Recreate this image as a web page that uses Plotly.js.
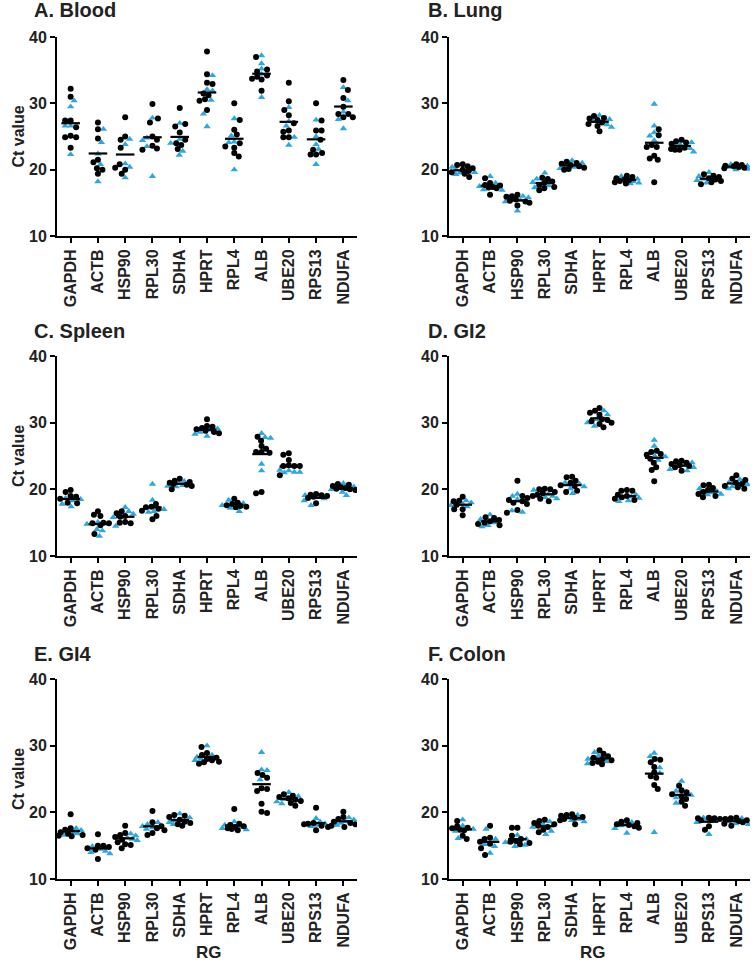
<!DOCTYPE html>
<html>
<head>
<meta charset="utf-8">
<script src="https://cdn.plot.ly/plotly-3.0.1.min.js"></script>
<style>html,body{margin:0;padding:0;background:#fff;}#chart{width:755px;height:963px;}</style>
</head>
<body>
<div id="chart"></div>
<script>
// ---------- DATA ----------
const genes = ['GAPDH','ACTB','HSP90','RPL30','SDHA','HPRT','RPL4','ALB','UBE20','RPS13','NDUFA'];
const yTicks = [10, 20, 30, 40];
const panelTitles = ['A. Blood','B. Lung','C. Spleen','D. GI2','E. GI4','F. Colon'];
const yTitle = 'Ct value';
const xTitle = 'RG';

const bloodBlack = [
  [32.2,31.0,27.4,27.4,26.4,25.1,24.9,24.9,23.3],
  [27.1,26.1,24.7,21.5,21.1,20.2,20.0,19.4],
  [27.9,25.0,24.5,23.3,20.8,20.3,20.0,19.4],
  [29.9,27.7,27.1,25.0,24.5,23.6,23.2,23.0],
  [29.3,26.9,26.5,25.6,24.5,24.0,23.7,23.1],
  [37.8,34.4,33.1,32.9,31.5,31.2,30.6,30.4,29.0],
  [30.0,27.5,26.0,25.3,24.0,23.5,23.3,22.5,22.0],
  [37.0,35.1,34.8,34.2,33.7,33.6,34.0,31.9],
  [33.1,30.3,29.0,28.2,27.0,25.7,25.9,24.9,24.9],
  [30.0,27.4,25.9,25.9,24.5,23.0,22.5,22.3,22.3],
  [33.5,32.0,30.8,29.5,28.4,28.4,27.9,27.9]
];
const bloodBlue = [
  [30.4,29.5,26.6,26.6,22.3],
  [26.1,24.1,22.4,20.8,18.2],
  [24.6,23.8,20.9,20.4,18.8],
  [27.8,24.8,24.4,23.5,19.0],
  [27.0,24.6,24.0,22.8,22.2],
  [34.2,32.1,31.9,30.5,28.4,26.5],
  [27.7,25.1,24.2,24.1,20.0],
  [37.2,36.0,35.2,34.4,30.9],
  [29.4,27.3,26.6,24.9,23.7],
  [27.5,25.0,23.8,23.1,20.8],
  [32.4,30.4,28.7,27.6,26.2]
];
const lungBlack = [
  [20.8,20.7,20.5,20.2,20.0,19.8,19.6,19.4,18.9],
  [18.7,18.0,17.7,17.6,17.4,17.3,17.2,16.2],
  [16.2,16.0,15.9,15.5,15.3,15.2,15.0,14.6],
  [18.8,18.6,18.2,18.0,17.7,17.4,17.2,16.9],
  [21.2,21.0,20.9,20.7,20.5,20.3,20.1,20.0],
  [28.1,27.8,27.7,27.5,27.1,26.9,26.6,25.8],
  [19.1,18.9,18.7,18.5,18.4,18.3,18.1,17.9],
  [26.1,25.2,23.7,23.4,23.4,22.1,21.7,21.5,18.1],
  [24.5,24.3,24.1,23.9,23.3,23.1,23.0,23.0],
  [19.3,19.1,18.9,18.7,18.5,18.3,18.1,17.8],
  [20.8,20.7,20.6,20.5,20.4,20.3,20.2]
];
const lungBlue = [
  [20.4,20.0,19.6,19.5,19.3],
  [19.0,18.0,17.5,17.0,16.9],
  [16.0,15.8,15.4,15.2,13.8],
  [19.5,18.6,18.1,17.6,17.3],
  [21.4,21.0,20.6,20.4,20.2],
  [28.2,27.6,27.3,26.8,26.4],
  [19.0,18.6,18.2,18.0,17.9],
  [29.9,26.6,25.6,25.1,24.4],
  [24.1,23.8,23.6,23.2,22.7],
  [19.6,19.0,18.6,18.4,18.0],
  [20.8,20.6,20.4,20.1,20.0]
];
const spleenBlack = [
  [19.9,19.6,19.0,18.9,18.6,18.0,17.9],
  [16.7,16.2,16.0,15.0,14.9,14.9,14.6,13.3],
  [16.7,16.4,16.0,15.9,15.1,15.0,14.9],
  [17.8,17.4,17.3,17.1,16.8,16.0,15.5],
  [21.6,21.3,21.1,21.0,20.8,20.7,20.5,20.0],
  [30.5,29.5,29.4,29.2,29.0,28.8,28.6,28.4],
  [18.6,18.0,17.8,17.6,17.5,17.4,17.3],
  [27.9,27.3,26.5,26.1,25.6,25.6,25.5,19.6,19.4],
  [25.4,25.2,24.4,23.6,23.5,23.5,23.5,22.1],
  [19.3,19.2,19.1,19.0,18.9,18.7,17.9],
  [20.8,20.7,20.5,20.3,20.2,20.1,20.0,19.9]
];
const spleenBlue = [
  [18.7,18.5,18.3,17.8,17.4],
  [15.1,14.8,14.0,13.8,13.0],
  [17.3,16.7,16.3,15.8,14.5],
  [20.8,18.4,17.0,16.7,16.6],
  [21.2,20.9,20.6,20.5,20.4],
  [29.1,28.9,28.6,28.3,28.0],
  [18.4,17.9,17.6,17.2,16.7],
  [28.4,27.8,27.7,23.8,22.8],
  [22.9,22.8,22.6,22.6,22.5],
  [19.1,18.9,18.6,18.3,17.6],
  [20.9,20.4,20.0,19.6,19.1]
];
const gi2Black = [
  [18.9,18.3,18.2,17.7,17.0,17.0,16.1],
  [15.8,15.7,15.4,15.2,15.0,14.8,14.6],
  [21.3,19.0,18.7,18.4,18.2,18.0,17.8,16.9,16.5],
  [20.1,20.0,20.0,19.6,19.4,19.2,19.0,18.6,18.2],
  [21.9,21.8,21.3,21.0,20.6,20.5,19.8,19.6],
  [32.2,31.8,31.5,31.2,30.5,30.4,30.2,30.0,29.8,29.3],
  [19.9,19.8,19.8,19.2,19.0,18.8,18.6,18.4],
  [25.8,25.6,25.3,25.2,24.6,24.0,23.3,22.9,21.2],
  [24.3,24.2,24.0,23.8,23.6,23.5,23.3,22.8],
  [20.7,20.6,20.2,19.9,19.6,19.3,19.0,18.8],
  [22.1,21.6,21.4,21.0,20.8,20.5,20.3,20.1]
];
const gi2Blue = [
  [18.3,18.0,17.8,17.6,17.4],
  [16.2,15.5,15.0,14.6,14.4],
  [19.3,19.0,18.5,16.8,16.6],
  [19.9,19.3,19.0,18.8,18.6],
  [21.0,20.8,20.4,20.1,19.4],
  [31.8,31.2,30.5,30.0,29.5],
  [19.2,18.9,18.7,18.3,18.2],
  [27.4,26.5,25.0,24.9,24.4],
  [24.0,23.6,23.3,23.0,22.8],
  [20.1,19.7,19.5,19.3,19.2],
  [21.5,21.0,20.7,20.4,20.1]
];
const gi4Black = [
  [19.7,17.6,17.4,17.0,16.8,16.6,16.5,16.4],
  [16.7,15.0,15.0,14.8,14.6,14.4,13.0],
  [18.0,16.9,16.6,16.3,15.9,15.5,15.2,15.1,14.6],
  [20.2,18.5,17.9,17.6,17.3,16.9,16.6],
  [19.6,19.5,19.3,18.9,18.6,18.4,18.2,18.0],
  [29.8,28.9,28.6,28.2,28.0,27.8,27.6,27.5,27.3],
  [20.5,18.3,18.1,17.9,17.8,17.6,17.5,17.3],
  [25.9,25.6,25.2,23.6,23.5,23.2,21.3,20.1,19.9],
  [22.7,22.5,22.3,22.1,21.9,21.7,21.4,21.0],
  [20.7,18.4,18.3,18.2,18.0,17.8,17.3],
  [20.1,19.3,19.0,18.6,18.4,18.2,18.0,17.8]
];
const gi4Blue = [
  [17.6,17.3,17.0,16.8,16.6],
  [14.9,14.5,14.2,14.0,13.8],
  [16.8,16.5,16.2,16.0,15.8],
  [18.5,18.2,17.9,17.7,17.5],
  [19.8,19.2,18.8,18.5,18.2],
  [30.0,28.6,28.3,28.0,27.8],
  [18.6,18.1,17.8,17.6,17.4],
  [29.0,26.4,26.3,24.9],
  [23.0,22.4,22.0,21.6,21.3],
  [19.1,18.6,18.3,18.1,17.9],
  [19.2,18.9,18.6,18.4,18.1]
];
const colonBlack = [
  [18.7,17.9,17.7,17.6,17.4,17.3,16.5,16.0],
  [18.0,16.2,16.0,15.6,15.3,14.6,13.6],
  [17.7,17.7,16.5,16.0,15.7,15.6,15.4,15.2],
  [18.9,18.7,18.4,18.2,18.0,17.8,17.4,17.0],
  [19.7,19.6,19.5,19.3,19.2,19.0,18.8,18.2],
  [29.3,28.8,28.4,28.2,28.0,27.8,27.6,27.4,27.2],
  [18.8,18.6,18.4,18.2,18.1,17.9,17.7],
  [28.0,27.9,27.5,26.8,26.0,25.4,25.2,24.1,23.5],
  [24.0,23.3,23.0,22.7,22.4,22.0,21.6,21.0],
  [19.2,19.1,19.1,19.0,18.9,18.8,17.9,17.4],
  [19.2,19.1,19.0,18.8,18.7,18.5,18.3,18.0]
];
const colonBlue = [
  [18.9,18.0,17.5,17.2,16.1],
  [17.5,16.0,15.2,14.9,13.9],
  [16.6,16.0,15.5,15.1,14.9],
  [18.6,18.2,17.8,17.2,16.7],
  [19.6,19.3,19.0,18.8,18.6],
  [29.0,28.5,28.0,27.6,27.3],
  [18.5,18.2,18.0,17.6,16.9],
  [28.9,28.4,26.7,25.9,17.0],
  [24.7,23.2,22.6,22.2,21.4],
  [19.2,19.0,18.8,18.5,16.7],
  [19.1,18.8,18.6,18.3,18.2]
];

const panels = [
  {black: bloodBlack, blue: bloodBlue},
  {black: lungBlack, blue: lungBlue},
  {black: spleenBlack, blue: spleenBlue},
  {black: gi2Black, blue: gi2Blue},
  {black: gi4Black, blue: gi4Blue},
  {black: colonBlack, blue: colonBlue}
];

// ---------- LAYOUT GEOMETRY (pixels) ----------
const W = 755, H = 963;
const colPx = [[57, 357], [449, 750]];
const rowPx = [[37, 236], [356, 556], [679, 879]];
const xRange = [-0.5, 10.5], yRange = [10, 40];
const FONT = 'Liberation Sans, Arial, Helvetica, sans-serif';
const TXT = '#222';
const BLUE = '#2AA9E0';
const DOT = 6;
const SEP = 5.2;   // min centre distance (px) in the swarm
const CAP = 12;    // max horizontal spread (px)

function swarmOffsets(pts, pxX, pxY) {
  const order = pts.map((p, i) => i).sort((a, b) => pts[b].v - pts[a].v);
  const placed = [];
  const off = new Array(pts.length).fill(0);
  order.forEach((i, idx) => {
    const yp = pts[i].v * pxY;
    const sign = idx % 2 === 0 ? 1 : -1;
    let chosen = null, bestX = 0, bestD = -1;
    for (let s = 0; s <= CAP; s += 0.5) {
      const cands = s === 0 ? [0] : [sign * s, -sign * s];
      for (const c of cands) {
        let minD = Infinity;
        for (const q of placed) {
          const dx = c - q.x, dy = yp - q.y;
          minD = Math.min(minD, Math.sqrt(dx * dx + dy * dy));
        }
        if (minD >= SEP) { chosen = c; break; }
        if (minD > bestD) { bestD = minD; bestX = c; }
      }
      if (chosen !== null) break;
    }
    if (chosen === null) chosen = bestX;
    placed.push({x: chosen, y: yp});
    off[i] = chosen / pxX;
  });
  return off;
}

const traces = [];
const layout = {
  width: W, height: H,
  margin: {l: 0, r: 0, t: 0, b: 0},
  paper_bgcolor: '#fff', plot_bgcolor: '#fff',
  showlegend: false,
  annotations: []
};

panels.forEach((p, k) => {
  const col = k % 2, row = Math.floor(k / 2);
  const n = k + 1;
  const xa = 'x' + (n === 1 ? '' : n), ya = 'y' + (n === 1 ? '' : n);
  const [x0, x1] = colPx[col];
  const [t0, b0] = rowPx[row];
  const pxX = (x1 - x0) / (xRange[1] - xRange[0]);
  const pxY = (b0 - t0) / (yRange[1] - yRange[0]);

  const bx = [], by = [], cx = [], cy = [], mx = [], my = [];
  genes.forEach((g, i) => {
    const pts = p.black[i].map(v => ({v, s: 'k'})).concat(p.blue[i].map(v => ({v, s: 'b'})));
    const off = swarmOffsets(pts, pxX, pxY);
    pts.forEach((pt, j) => {
      if (pt.s === 'k') { bx.push(i + off[j]); by.push(pt.v); }
      else { cx.push(i + off[j]); cy.push(pt.v); }
    });
    const mean = pts.reduce((a, b) => a + b.v, 0) / pts.length;
    mx.push(i - 0.34, i + 0.34, null);
    my.push(mean, mean, null);
  });

  traces.push({type: 'scatter', mode: 'markers', x: cx, y: cy, xaxis: xa, yaxis: ya,
    marker: {symbol: 'triangle-up', size: 6.5, color: BLUE}, hoverinfo: 'y'});
  traces.push({type: 'scatter', mode: 'markers', x: bx, y: by, xaxis: xa, yaxis: ya,
    marker: {symbol: 'circle', size: DOT, color: '#000'}, hoverinfo: 'y'});
  traces.push({type: 'scatter', mode: 'lines', x: mx, y: my, xaxis: xa, yaxis: ya,
    line: {color: '#000', width: 2.2}, hoverinfo: 'skip'});

  const axCommon = {
    showline: true, linecolor: '#000', linewidth: 2,
    ticks: 'outside', ticklen: 5, tickwidth: 2, tickcolor: '#000',
    showgrid: false, zeroline: false, fixedrange: true,
    tickfont: {family: FONT, size: 16, color: TXT, weight: 'bold'}
  };
  layout['xaxis' + (n === 1 ? '' : n)] = Object.assign({}, axCommon, {
    domain: [x0 / W, x1 / W], anchor: ya, range: xRange,
    tickmode: 'array', tickvals: genes.map((g, i) => i), ticktext: genes,
    tickangle: -90
  });
  layout['yaxis' + (n === 1 ? '' : n)] = Object.assign({}, axCommon, {
    domain: [1 - b0 / H, 1 - t0 / H], anchor: xa, range: yRange,
    tickmode: 'array', tickvals: yTicks, ticktext: yTicks.map(String)
  });

  const titleY = [10, 331, 654][row];
  const titleX = [32, 426][col];
  layout.annotations.push({
    xref: 'paper', yref: 'paper', x: titleX / W, y: 1 - titleY / H,
    xanchor: 'left', yanchor: 'middle', showarrow: false,
    text: panelTitles[k], font: {family: FONT, size: 20, color: TXT, weight: 'bold'}
  });
  if (col === 0) {
    layout.annotations.push({
      xref: 'paper', yref: 'paper', x: 18 / W, y: 1 - ((t0 + b0) / 2) / H,
      xanchor: 'center', yanchor: 'middle', showarrow: false, textangle: -90,
      text: yTitle, font: {family: FONT, size: 16, color: TXT, weight: 'bold'}
    });
  }
  if (row === 2) {
    layout.annotations.push({
      xref: 'paper', yref: 'paper', x: [209, 593][col] / W, y: 1 - 952 / H,
      xanchor: 'center', yanchor: 'middle', showarrow: false,
      text: xTitle, font: {family: FONT, size: 17, color: TXT, weight: 'bold'}
    });
  }
});

Plotly.newPlot('chart', traces, layout, {displayModeBar: false, staticPlot: true});
</script>
</body>
</html>
